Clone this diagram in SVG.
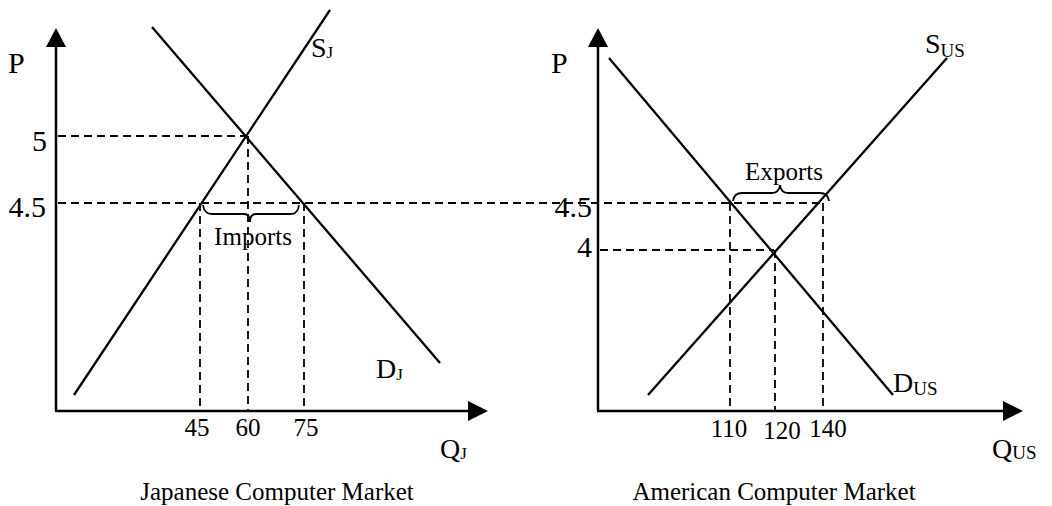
<svg xmlns="http://www.w3.org/2000/svg" width="1052" height="506" viewBox="0 0 1052 506">
<style>
text{font-family:"Liberation Serif","Times New Roman",serif;fill:#000}
.ax{stroke:#000;stroke-width:2.5;fill:none}
.cv{stroke:#000;stroke-width:2.3;fill:none}
.ds{stroke:#000;stroke-width:1.8;fill:none;stroke-dasharray:8 5}
.br{stroke:#000;stroke-width:1.8;fill:none}
.lab{font-size:28px}
.num{font-size:30px}
.xn{font-size:25px}
.cap{font-size:25px}
.sub{font-size:17px}
.subu{font-size:19px}
</style>
<rect width="1052" height="506" fill="#fff"/>
<g id="japan">
  <g id="j-axes">
    <line class="ax" x1="56" y1="411" x2="56" y2="45"/>
    <polygon points="56,28 46,47 66,47"/>
    <line class="ax" x1="55" y1="411" x2="470" y2="411"/>
    <polygon points="488,411 468,401 468,421"/>
  </g>
  <g id="j-guides">
    <line class="ds" x1="58" y1="136" x2="247" y2="136"/>
    <line class="ds" x1="248" y1="136" x2="248" y2="410"/>
    <line class="ds" x1="58" y1="203" x2="822" y2="203"/>
    <line class="ds" x1="200" y1="203" x2="200" y2="410"/>
    <line class="ds" x1="304" y1="203" x2="304" y2="410"/>
  </g>
  <g id="j-curves">
    <line class="cv" x1="74" y1="395" x2="330" y2="10"/>
    <line class="cv" x1="152" y1="27" x2="440" y2="363"/>
  </g>
  <path class="br" d="M203,205 Q204,214 212,214 L244,214 Q250,214 250,222 Q250,214 256,214 L291,214 Q298,214 299,205"/>
  <text class="cap" x="253" y="245" text-anchor="middle">Imports</text>
  <text class="num" x="8" y="73">P</text>
  <text class="num" x="47" y="151" text-anchor="end">5</text>
  <text class="num" x="46" y="217" text-anchor="end">4.5</text>
  <text class="lab" x="311" y="57">S<tspan class="sub" dy="1">J</tspan></text>
  <text class="lab" x="376" y="378">D<tspan class="sub" dy="2">J</tspan></text>
  <text class="xn" x="197" y="436" text-anchor="middle">45</text>
  <text class="xn" x="248" y="436" text-anchor="middle">60</text>
  <text class="xn" x="306" y="436" text-anchor="middle">75</text>
  <text class="lab" x="440" y="458">Q<tspan class="sub" dy="1">J</tspan></text>
  <text class="cap" x="277" y="500" text-anchor="middle">Japanese Computer Market</text>
</g>
<g id="usa">
  <g id="u-axes">
    <line class="ax" x1="598" y1="411" x2="598" y2="45"/>
    <polygon points="598,28 588,47 608,47"/>
    <line class="ax" x1="597" y1="411" x2="1005" y2="411"/>
    <polygon points="1023,411 1003,401 1003,421"/>
  </g>
  <g id="u-guides">
    <line class="ds" x1="600" y1="250" x2="774" y2="250"/>
    <line class="ds" x1="775" y1="250" x2="775" y2="410"/>
    <line class="ds" x1="730" y1="203" x2="730" y2="410"/>
    <line class="ds" x1="823" y1="203" x2="823" y2="410"/>
  </g>
  <g id="u-curves">
    <line class="cv" x1="648" y1="395" x2="947" y2="58"/>
    <line class="cv" x1="609" y1="58" x2="893" y2="395"/>
  </g>
  <path class="br" d="M733,201 Q734,193 742,193 L772,193 Q779,193 780,185 Q781,193 788,193 L820,193 Q828,193 829,201"/>
  <text class="cap" x="784" y="180" text-anchor="middle">Exports</text>
  <text class="num" x="551" y="73">P</text>
  <text class="num" x="592" y="217" text-anchor="end">4.5</text>
  <text class="num" x="592" y="257" text-anchor="end">4</text>
  <text class="lab" x="925" y="53">S<tspan class="subu" dy="4">US</tspan></text>
  <text class="lab" x="893" y="392">D<tspan class="subu" dy="3">US</tspan></text>
  <text class="xn" x="729" y="437" text-anchor="middle">110</text>
  <text class="xn" x="782" y="439" text-anchor="middle">120</text>
  <text class="xn" x="828" y="437" text-anchor="middle">140</text>
  <text class="lab" x="992" y="458">Q<tspan class="subu" dy="1">US</tspan></text>
  <text class="cap" x="774" y="500" text-anchor="middle">American Computer Market</text>
</g>
</svg>
